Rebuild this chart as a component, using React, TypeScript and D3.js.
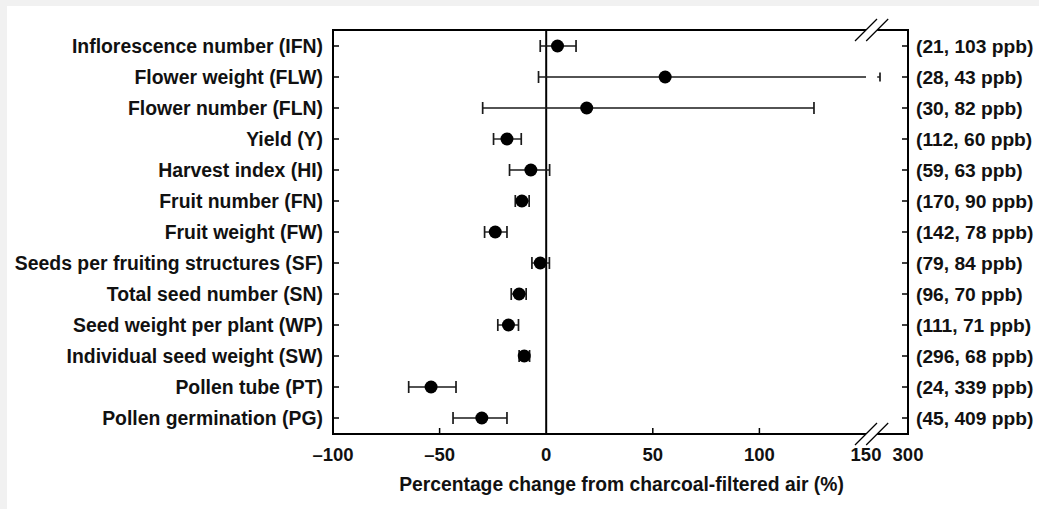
import React from "react";
import * as d3 from "d3";

const labels = [
  "Inflorescence number (IFN)",
  "Flower weight (FLW)",
  "Flower number (FLN)",
  "Yield (Y)",
  "Harvest index (HI)",
  "Fruit number (FN)",
  "Fruit weight (FW)",
  "Seeds per fruiting structures (SF)",
  "Total seed number (SN)",
  "Seed weight per plant (WP)",
  "Individual seed weight (SW)",
  "Pollen tube (PT)",
  "Pollen germination (PG)",
];
const sampleInfo = [
  "(21, 103 ppb)",
  "(28, 43 ppb)",
  "(30, 82 ppb)",
  "(112, 60 ppb)",
  "(59, 63 ppb)",
  "(170, 90 ppb)",
  "(142, 78 ppb)",
  "(79, 84 ppb)",
  "(96, 70 ppb)",
  "(111, 71 ppb)",
  "(296, 68 ppb)",
  "(24, 339 ppb)",
  "(45, 409 ppb)",
];
const means = [5.3, 55.8, 19, -18.4, -7.2, -11.4, -23.9, -2.8, -12.7, -17.7, -10.3, -54, -30.2];
const lower = [-2.8, -3.6, -29.8, -24.7, -17.2, -14.5, -28.9, -6.7, -16.4, -22.7, -12.7, -64.5, -43.7];
const upper = [14, 200, 125.6, -11.7, 1.6, -8, -18.4, 1.5, -9.4, -13, -7.8, -42.3, -18.4];

const tickValues = [-100, -50, 0, 50, 100, 150, 300];
const innerTicks = [-50, 50, 100];
const breakStart = 150;
const breakEnd = 190;
const xTitle = "Percentage change from charcoal-filtered air (%)";

const W = 1039;
const H = 509;
const left = 333;
const right = 908;
const top = 30;
const bottom = 434;
const FONT = "'Liberation Sans', Arial, Helvetica, sans-serif";

export default function App() {
  const x = d3.scaleLinear().domain([-100, 150, 300]).range([left, 866, right]);
  const y = d3
    .scalePoint<string>()
    .domain(labels)
    .range([top, bottom])
    .padding(0.516);

  const xb0 = x(breakStart);
  const xb1 = x(breakEnd);
  const capH = 6;
  const slash = 11;

  const breakMarks = (yy: number) =>
    [xb0, xb1].map((bx, i) => (
      <line
        key={i}
        x1={bx - slash}
        y1={yy + slash}
        x2={bx + slash}
        y2={yy - slash}
        stroke="#000"
        strokeWidth={1.2}
      />
    ));

  return (
    <svg
      width={W}
      height={H}
      style={{ position: "absolute", left: 0, top: 0 }}
      fontFamily={FONT}
      fontWeight="bold"
    >
      <rect x={0} y={0} width={W} height={H} fill="#f1f1f1" />
      <rect x={7} y={6} width={W - 7} height={H - 6} fill="#fff" />

      {/* frame */}
      <line x1={left} y1={top} x2={xb0} y2={top} stroke="#000" strokeWidth={2} />
      <line x1={xb1} y1={top} x2={right + 1} y2={top} stroke="#000" strokeWidth={2} />
      <line x1={left} y1={bottom} x2={xb0} y2={bottom} stroke="#000" strokeWidth={2} />
      <line x1={xb1} y1={bottom} x2={right + 1} y2={bottom} stroke="#000" strokeWidth={2} />
      <line x1={left} y1={top - 1} x2={left} y2={bottom + 1} stroke="#000" strokeWidth={2} />
      <line x1={right} y1={top - 1} x2={right} y2={bottom + 1} stroke="#000" strokeWidth={2} />
      {breakMarks(top)}
      {breakMarks(bottom)}

      {/* zero line */}
      <line x1={x(0)} y1={top} x2={x(0)} y2={bottom} stroke="#000" strokeWidth={2} />

      {/* row ticks */}
      {labels.map((l) => (
        <g key={"t" + l}>
          <line x1={left} x2={left + 6} y1={y(l)} y2={y(l)} stroke="#000" strokeWidth={1.5} />
          <line x1={right - 6} x2={right} y1={y(l)} y2={y(l)} stroke="#000" strokeWidth={1.5} />
        </g>
      ))}

      {/* bottom inner ticks */}
      {innerTicks.map((t) => (
        <line key={t} x1={x(t)} x2={x(t)} y1={bottom} y2={bottom - 6} stroke="#000" strokeWidth={1.5} />
      ))}

      {/* tick labels */}
      {tickValues.map((t) => (
        <text key={t} x={x(t)} y={461} textAnchor="middle" fontSize={18.5} fill="#111">
          {t < 0 ? "\u2013" + Math.abs(t) : String(t)}
        </text>
      ))}

      <text x={621.5} y={491} textAnchor="middle" fontSize={19.3} fill="#111">
        {xTitle}
      </text>

      {/* row labels */}
      {labels.map((l, i) => (
        <g key={"l" + l}>
          <text x={323} y={y(l)} dy="0.36em" textAnchor="end" fontSize={19.4} fill="#111">
            {l}
          </text>
          <text x={916} y={y(l)} dy="0.36em" textAnchor="start" fontSize={19.2} fill="#111">
            {sampleInfo[i]}
          </text>
        </g>
      ))}

      {/* error bars and points */}
      {labels.map((l, i) => {
        const yy = y(l) as number;
        const lo = lower[i];
        const hi = upper[i];
        const segs: [number, number][] =
          hi > breakStart
            ? [
                [x(lo), xb0],
                [xb1, x(hi)],
              ]
            : [[x(lo), x(hi)]];
        return (
          <g key={"e" + l}>
            {segs.map((s, k) => (
              <line key={k} x1={s[0]} x2={s[1]} y1={yy} y2={yy} stroke="#1a1a1a" strokeWidth={1.4} />
            ))}
            <line x1={x(lo)} x2={x(lo)} y1={yy - capH} y2={yy + capH} stroke="#1a1a1a" strokeWidth={1.7} />
            <line
              x1={x(hi)}
              x2={x(hi)}
              y1={yy - (hi > breakStart ? 4.5 : capH)}
              y2={yy + (hi > breakStart ? 4.5 : capH)}
              stroke="#1a1a1a"
              strokeWidth={1.7}
            />
            <circle cx={x(means[i])} cy={yy} r={6.5} fill="#000" />
          </g>
        );
      })}
    </svg>
  );
}
